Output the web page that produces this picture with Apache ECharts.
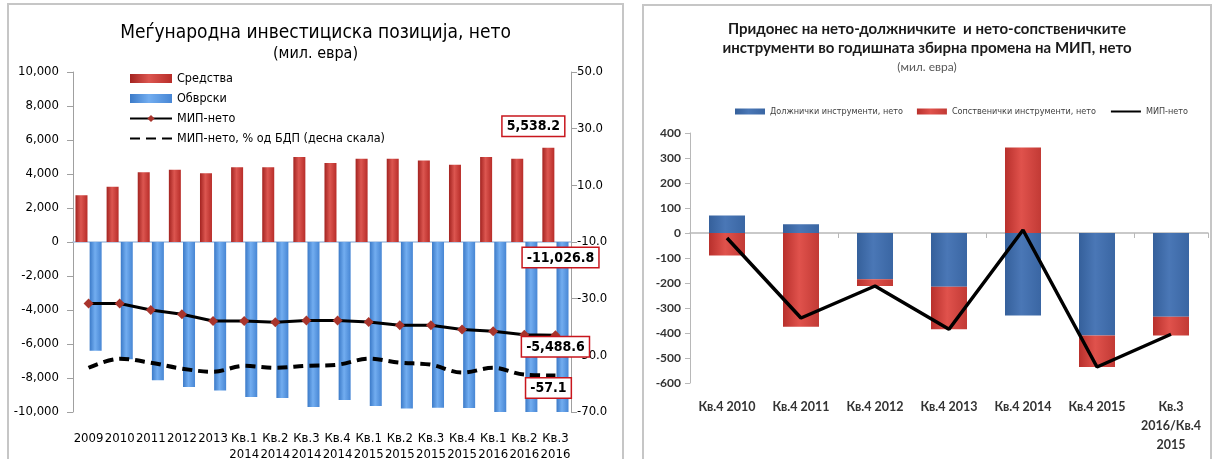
<!DOCTYPE html>
<html>
<head>
<meta charset="utf-8">
<script src="https://cdn.jsdelivr.net/npm/echarts@6/dist/echarts.min.js"></script>
<style>
  body { margin: 0; background: #fff; width: 1213px; height: 459px; overflow: hidden; position: relative; }
  .panel { position: absolute; box-sizing: border-box; border: 2px solid #c6c6c6; background: #fff; }
  #left { left: 7px; top: 3px; width: 617px; height: 470px; }
  #right { left: 642px; top: 4px; width: 570px; height: 470px; }
</style>
</head>
<body>
<div id="left" class="panel"></div>
<div id="right" class="panel"></div>
<script>
// left chart: net IIP (mil. EUR)
const leftCategories = ['2009', '2010', '2011', '2012', '2013', 'Кв.1\n2014', 'Кв.2\n2014', 'Кв.3\n2014', 'Кв.4\n2014',
  'Кв.1\n2015', 'Кв.2\n2015', 'Кв.3\n2015', 'Кв.4\n2015', 'Кв.1\n2016', 'Кв.2\n2016', 'Кв.3\n2016']
const assets = [2750, 3250, 4100, 4250, 4050, 4400, 4400, 5000, 4650, 4900, 4900, 4800, 4550, 5000, 4900, 5538.2]
const liabilities = [-6400, -6900, -8130, -8530, -8730, -9120, -9180, -9700, -9300, -9650, -9800, -9750, -9760, -10300, -10400, -11026.8]
const niip = [-3620, -3620, -4000, -4250, -4650, -4650, -4720, -4620, -4620, -4700, -4900, -4900, -5150, -5250, -5450, -5488.6]
const niipGdp = [-54.4, -51.2, -52.6, -54.7, -55.8, -53.7, -54.4, -53.7, -53.3, -51.2, -52.6, -53.3, -56.1, -54.4, -56.8, -57.1]

// right chart: contributions to annual change of net IIP (mil. EUR)
const rightCategories = ['Кв.4 2010', 'Кв.4 2011', 'Кв.4 2012', 'Кв.4 2013', 'Кв.4 2014', 'Кв.4 2015', 'Кв.3\n2016/Кв.4\n2015']
const debtNet = [70, 35, -185, -215, -330, -410, -335]
const equityNet = [-90, -375, -27, -170, 342, -126, -75]
const niipChange = [-20, -340, -212, -385, 12, -536, -405]

const narrow = "'Liberation Sans Narrow', 'DejaVu Sans Condensed', sans-serif"
const calib = "Lato, 'Open Sans', sans-serif"

const grad = (a, b, c) => new echarts.graphic.LinearGradient(0, 0, 1, 0, [
  { offset: 0, color: a }, { offset: 0.45, color: b }, { offset: 1, color: c },
])

const fmtThousands = (v) => v.toLocaleString('en-US', { minimumFractionDigits: 0, maximumFractionDigits: 1 })
const fmtOneDec = (v) => v.toLocaleString('en-US', { minimumFractionDigits: 1, maximumFractionDigits: 1 })

// hides the marker drawn in the middle of a line legend icon
const noMarker = { color: 'rgba(0,0,0,0)', borderWidth: 0, opacity: 0 }

const boxLabel = {
  show: true,
  fontFamily: narrow,
  fontWeight: 'bold',
  fontSize: 14,
  color: '#000',
  backgroundColor: '#fff',
  borderColor: '#c8161d',
  borderWidth: 1.5,
  padding: [3, 4, 2, 4],
  formatter: (p) => fmtOneDec(p.value),
}

const last = leftCategories.length - 1
const withLastLabel = (arr, label) => arr.map((v, i) => (i === last ? { value: v, label: label } : v))

const leftChart = echarts.init(document.getElementById('left'))
leftChart.setOption({
  animation: false,
  textStyle: { fontFamily: narrow },
  title: {
    text: 'Меѓународна инвестициска позиција, нето',
    subtext: '(мил. евра)',
    left: 'center',
    top: 14,
    itemGap: 3,
    textStyle: { fontFamily: narrow, fontSize: 19, fontWeight: 'normal', color: '#000' },
    subtextStyle: { fontFamily: narrow, fontSize: 16, color: '#000' },
  },
  legend: {
    orient: 'vertical',
    left: 115,
    top: 62,
    itemGap: 7,
    itemWidth: 42,
    itemHeight: 9,
    textStyle: { fontFamily: narrow, fontSize: 12.5, color: '#000' },
    data: [
      { name: 'Средства', icon: 'rect' },
      { name: 'Обврски', icon: 'rect' },
      { name: 'МИП-нето' },
      { name: 'МИП-нето, % од БДП (десна скала)', itemStyle: noMarker },
    ],
  },
  grid: { left: 64, right: 51, top: 67, height: 340 },
  xAxis: [
    {
      type: 'category',
      data: leftCategories,
      position: 'bottom',
      axisLine: { show: false, onZero: false },
      axisTick: { show: false },
      axisLabel: { interval: 0, margin: 19, fontSize: 13, lineHeight: 16, color: '#000', fontFamily: narrow },
    },
    {
      type: 'category',
      data: leftCategories,
      position: 'bottom',
      axisLine: { onZero: true, onZeroAxisIndex: 0, lineStyle: { color: '#a9c1df', width: 1.5 } },
      axisTick: { show: false },
      axisLabel: { show: false },
    },
  ],
  yAxis: [
    {
      type: 'value',
      min: -10000,
      max: 10000,
      interval: 2000,
      axisLine: { show: true, lineStyle: { color: '#a0a0a0' } },
      axisTick: { show: true, length: 6, lineStyle: { color: '#a0a0a0' } },
      splitLine: { show: false },
      axisLabel: { fontSize: 13, color: '#000', margin: 14, formatter: (v) => fmtThousands(v) },
    },
    {
      type: 'value',
      position: 'right',
      min: -70,
      max: 50,
      interval: 20,
      axisLine: { show: true, lineStyle: { color: '#a0a0a0' } },
      axisTick: { show: true, length: 6, lineStyle: { color: '#a0a0a0' } },
      splitLine: { show: false },
      axisLabel: { fontSize: 13, color: '#000', margin: 6, formatter: (v) => v.toFixed(1) },
    },
  ],
  series: [
    {
      name: 'Средства',
      type: 'bar',
      barWidth: 12,
      barGap: '18%',
      itemStyle: { color: grad('#a32320', '#dc5650', '#b82d29') },
      data: withLastLabel(assets, Object.assign({}, boxLabel, { position: 'top', offset: [-15, -7] })),
    },
    {
      name: 'Обврски',
      type: 'bar',
      barWidth: 12,
      barGap: '18%',
      itemStyle: { color: grad('#3b7ac8', '#72adf0', '#4786d4') },
      data: withLastLabel(liabilities, Object.assign({}, boxLabel, { position: 'insideTop', offset: [-2, 1] })),
    },
    {
      name: 'МИП-нето',
      type: 'line',
      symbol: 'diamond',
      symbolSize: 10,
      z: 5,
      itemStyle: { color: '#a8342c' },
      lineStyle: { color: '#000', width: 3 },
      data: withLastLabel(niip, Object.assign({}, boxLabel, { position: 'bottom', offset: [0, -8] })),
    },
    {
      name: 'МИП-нето, % од БДП (десна скала)',
      type: 'line',
      yAxisIndex: 1,
      smooth: 0.35,
      symbol: 'circle',
      symbolSize: 0,
      z: 5,
      itemStyle: { color: '#000' },
      lineStyle: { color: '#000', width: 4, type: [10, 6] },
      data: withLastLabel(niipGdp, Object.assign({}, boxLabel, { position: 'bottom', offset: [-7, -2] })),
    },
  ],
})

const rightChart = echarts.init(document.getElementById('right'))
rightChart.setOption({
  animation: false,
  textStyle: { fontFamily: calib },
  title: {
    text: 'Придонес на нето-должничките  и нето-сопственичките\nинструменти во годишната збирна промена на МИП, нето',
    subtext: '(мил. евра)',
    left: 'center',
    top: 9,
    itemGap: 3,
    textStyle: { fontFamily: calib, fontSize: 15, fontWeight: 'bold', lineHeight: 19, color: '#1a1a1a' },
    subtextStyle: { fontFamily: calib, fontSize: 12, color: '#595959' },
  },
  legend: {
    top: 96,
    left: 86,
    width: 620,
    itemGap: 14,
    itemWidth: 30,
    itemHeight: 6,
    textStyle: { fontFamily: narrow, fontSize: 9, color: '#404040' },
    data: [
      { name: 'Должнички инструменти, нето', icon: 'rect' },
      { name: 'Сопственички инструменти, нето', icon: 'rect' },
      { name: 'МИП-нето', itemStyle: noMarker },
    ],
  },
  grid: { left: 46, right: 2, top: 127, height: 250 },
  xAxis: [
    {
      type: 'category',
      data: rightCategories,
      position: 'bottom',
      axisLine: { show: false, onZero: false },
      axisTick: { show: false },
      axisLabel: { interval: 0, margin: 14, fontSize: 12.5, lineHeight: 19, fontWeight: 'bold', color: '#333', fontFamily: calib },
    },
    {
      type: 'category',
      data: rightCategories,
      position: 'bottom',
      axisLine: { onZero: true, lineStyle: { color: '#b8b8b8', width: 1.5 } },
      axisTick: { show: true, length: 5, lineStyle: { color: '#b8b8b8' } },
      axisLabel: { show: false },
    },
  ],
  yAxis: {
    type: 'value',
    min: -600,
    max: 400,
    interval: 100,
    axisLine: { show: true, lineStyle: { color: '#b8b8b8' } },
    axisTick: { show: true, length: 5, lineStyle: { color: '#b8b8b8' } },
    splitLine: { show: false },
    axisLabel: { fontSize: 12, fontWeight: 'bold', color: '#333', margin: 9 },
  },
  series: [
    {
      name: 'Должнички инструменти, нето',
      type: 'bar',
      stack: 'instr',
      barWidth: 36,
      itemStyle: { color: grad('#35609b', '#4a77b6', '#3a66a3') },
      data: debtNet,
    },
    {
      name: 'Сопственички инструменти, нето',
      type: 'bar',
      stack: 'instr',
      barWidth: 36,
      itemStyle: { color: grad('#b8302c', '#e0524c', '#c23a35') },
      data: equityNet,
    },
    {
      name: 'МИП-нето',
      type: 'line',
      symbol: 'none',
      z: 5,
      itemStyle: { color: '#000' },
      lineStyle: { color: '#000', width: 3.5 },
      data: niipChange,
    },
  ],
})
</script>
</body>
</html>
